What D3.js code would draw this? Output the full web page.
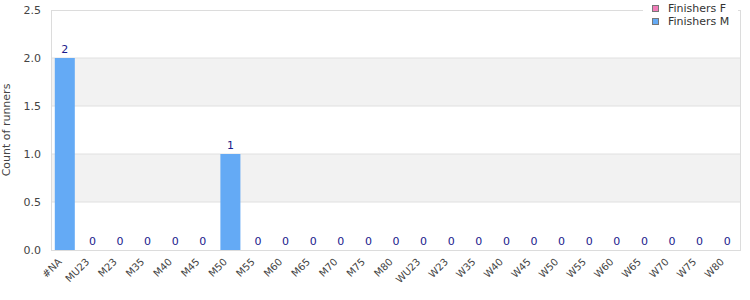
<!DOCTYPE html>
<html><head><meta charset="utf-8">
<script src="https://cdn.jsdelivr.net/npm/d3@7"></script>
<style>
body{margin:0;background:#fff;}
text{font-family:"DejaVu Sans",sans-serif;}
</style></head>
<body><svg id="c" width="750" height="300"></svg>
<script>
const categories = ["#NA","MU23","M23","M35","M40","M45","M50","M55","M60","M65","M70","M75","M80","WU23","W23","W35","W40","W45","W50","W55","W60","W65","W70","W75","W80"];
const finishersM = [2,0,0,0,0,0,1,0,0,0,0,0,0,0,0,0,0,0,0,0,0,0,0,0,0];
const seriesNames = ["Finishers F","Finishers M"];
const seriesColors = ["#f07cb8","#64aaf5"];
const yTicks = [0,0.5,1.0,1.5,2.0,2.5];

const svg = d3.select("#c");
const m = {l:51, r:9, t:10, b:50};
const W = 750, H = 300;
const x = d3.scaleBand().domain(categories).range([m.l, W-m.r]).paddingInner(0.275).paddingOuter(0.1375);
const y = d3.scaleLinear().domain([0,2.5]).range([H-m.b, m.t]);

// bands
const bandPairs = [[0.5,1.0],[1.5,2.0]];
svg.selectAll("rect.band").data(bandPairs).enter().append("rect")
  .attr("x", m.l).attr("width", W-m.r-m.l)
  .attr("y", d=>y(d[1])).attr("height", d=>y(d[0])-y(d[1]))
  .attr("fill","#f2f2f2");
// gridlines
svg.selectAll("line.grid").data(yTicks.filter(t=>t>0 && t<2.5)).enter().append("line")
  .attr("x1", m.l).attr("x2", W-m.r).attr("y1", d=>y(d)).attr("y2", d=>y(d))
  .attr("stroke","#e0e0e0");
// border
svg.append("rect").attr("x", m.l+0.5).attr("y", y(2.5)+0.5).attr("width", W-m.r-m.l-1).attr("height", y(0)-y(2.5))
  .attr("fill","none").attr("stroke","#dcdcdc");

// bars
svg.selectAll("rect.bar").data(categories).enter().append("rect")
  .attr("x", d=>x(d)).attr("width", x.bandwidth())
  .attr("y", (d,i)=>y(finishersM[i])).attr("height", (d,i)=>y(0)-y(finishersM[i]))
  .attr("fill", seriesColors[1]);
// value labels
svg.selectAll("text.val").data(categories).enter().append("text")
  .attr("x", d=>x(d)+x.bandwidth()/2).attr("y", (d,i)=>y(finishersM[i])-5)
  .attr("text-anchor","middle").attr("font-size","11px").attr("fill","#1a1a8c")
  .text((d,i)=>finishersM[i]);

// y axis
const yAxis = d3.axisLeft(y).tickValues(yTicks).tickFormat(d3.format(".1f")).tickSize(0).tickPadding(10);
const ya = svg.append("g").attr("transform",`translate(${m.l},0)`).call(yAxis);
ya.select(".domain").remove();
ya.selectAll("text").attr("font-size","11px").attr("fill","#444").attr("font-family","DejaVu Sans");

// x axis
const xAxis = d3.axisBottom(x).tickSize(0).tickPadding(0);
const xa = svg.append("g").attr("transform",`translate(0,${H-m.b})`).call(xAxis);
xa.select(".domain").remove();
xa.selectAll("text").attr("font-size","10px").attr("fill","#444").attr("font-family","DejaVu Sans")
  .attr("text-anchor","end").attr("y",0).attr("dy","0.35em")
  .attr("transform","translate(-5,10) rotate(-45)");

// y title
svg.append("text").attr("transform",`translate(10,${(y(0)+y(2.5))/2}) rotate(-90)`)
  .attr("text-anchor","middle").attr("font-size","11px").attr("fill","#444").text("Count of runners");

// legend
const lg = svg.append("g").attr("transform","translate(643,0)");
lg.append("rect").attr("x",0).attr("y",0).attr("width",95).attr("height",32).attr("fill","#fff");
seriesNames.forEach((s,i)=>{
  lg.append("rect").attr("x",9.5).attr("y",5.5+i*13).attr("width",6).attr("height",6)
    .attr("fill",seriesColors[i]).attr("stroke","#777");
  lg.append("text").attr("x",25).attr("y",12+i*13).attr("font-size","11px").attr("fill","#333").text(s);
});
</script></body></html>
